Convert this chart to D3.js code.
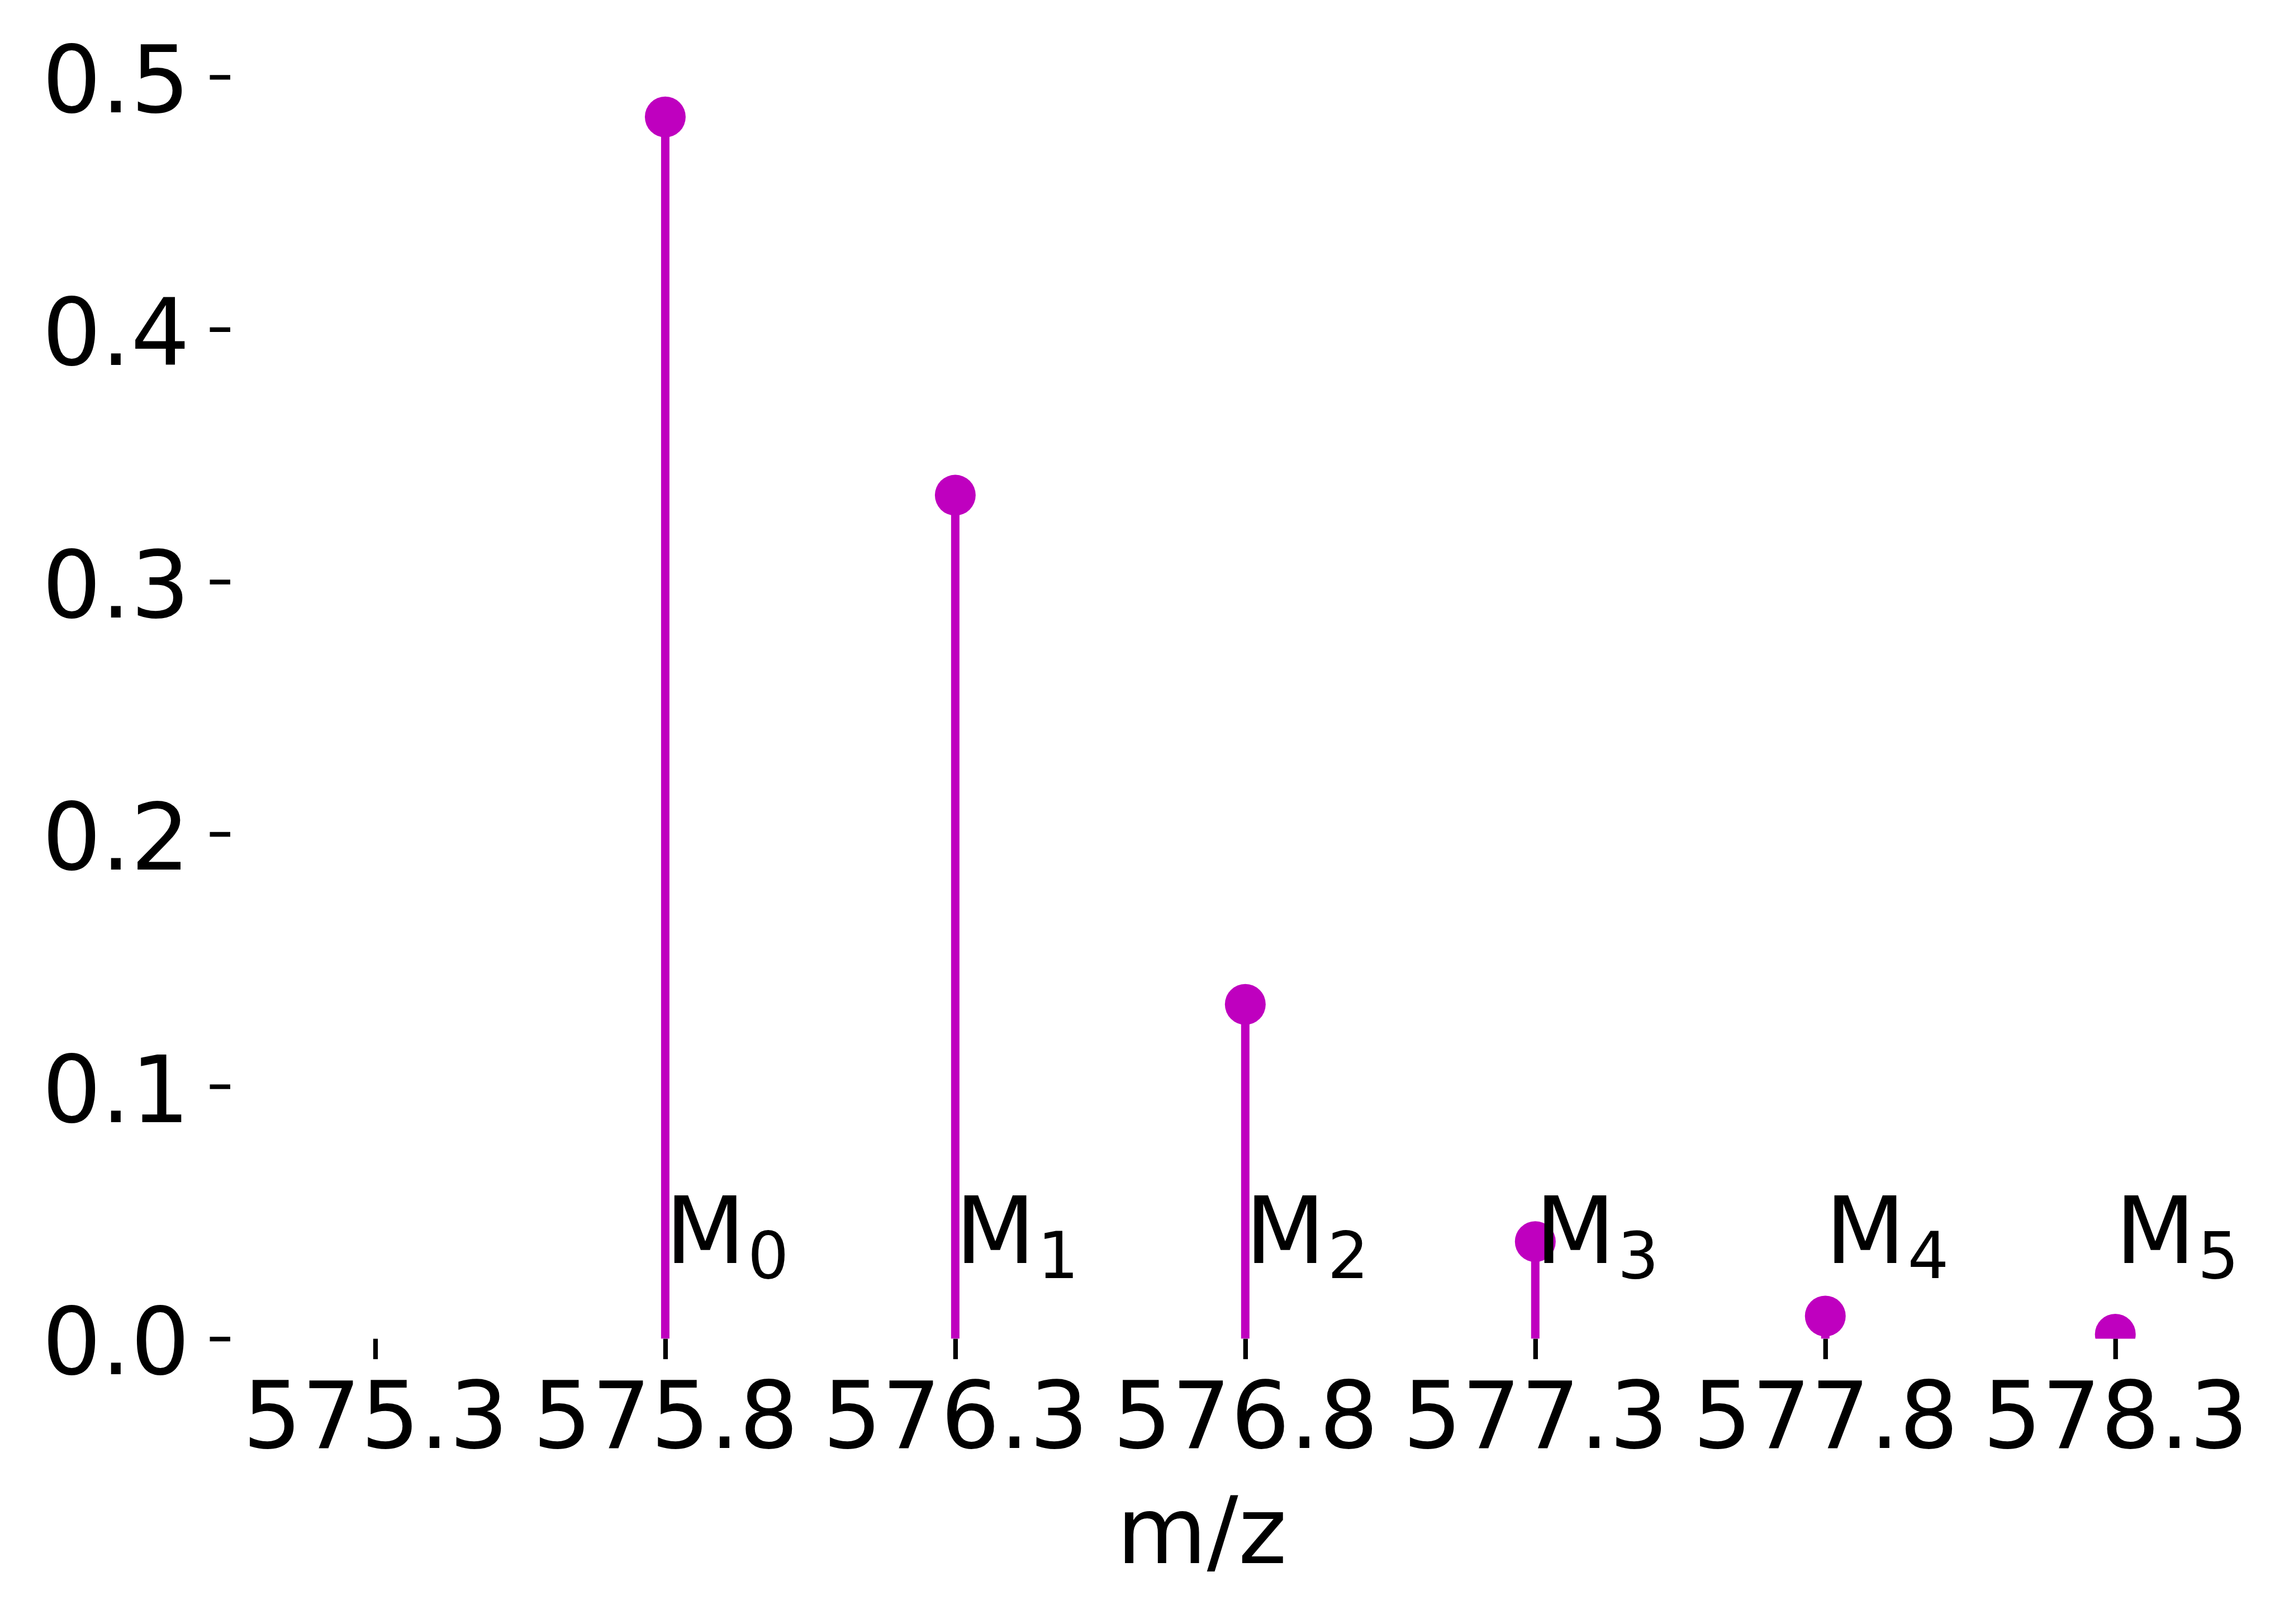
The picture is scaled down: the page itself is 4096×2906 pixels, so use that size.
<!DOCTYPE html>
<html>
<head>
<meta charset="utf-8">
<script src="https://cdn.jsdelivr.net/npm/d3@7"></script>
<style>
  html, body { margin: 0; padding: 0; background: #ffffff; }
  svg { display: block; }
  text { font-family: "DejaVu Sans", sans-serif; fill: #000; }
</style>
</head>
<body>
<script>
// ---- data ----
const mzValues   = [575.8, 576.3, 576.8, 577.3, 577.8, 578.3];
const intensity  = [0.4842, 0.3343, 0.1325, 0.0385, 0.0090, 0.0018];
const peakBase   = ["M", "M", "M", "M", "M", "M"];
const peakSub    = ["0", "1", "2", "3", "4", "5"];
const xTickVals  = [575.3, 575.8, 576.3, 576.8, 577.3, 577.8, 578.3];
const yTickVals  = [0.0, 0.1, 0.2, 0.3, 0.4, 0.5];
const xLabel     = "m/z";
const labelLevel = 0.03;

// ---- layout ----
const W = 4096, H = 2906;
const left = 412, right = 3889, bottom = 2395.6, topAt05 = 137.9;
const fontSize = 166;
const color = "#bf00bf";

const svg = d3.select("body").append("svg")
  .attr("width", W).attr("height", H);

const x = d3.scaleLinear().domain([575.05, 578.4]).range([left, right]);
const y = d3.scaleLinear().domain([0, 0.5]).range([bottom, topAt05]);

svg.append("defs").append("clipPath").attr("id", "plotclip")
  .append("rect")
  .attr("x", left).attr("y", y(0.51))
  .attr("width", right - left).attr("height", bottom - y(0.51));

const peaks = mzValues.map((m, i) => ({ mz: m, v: intensity[i], base: peakBase[i], sub: peakSub[i] }));

const plot = svg.append("g").attr("clip-path", "url(#plotclip)");

// stems
plot.selectAll("line.stem").data(peaks).join("line")
  .attr("class", "stem")
  .attr("x1", d => x(d.mz)).attr("x2", d => x(d.mz))
  .attr("y1", y(0)).attr("y2", d => y(d.v))
  .attr("stroke", color).attr("stroke-width", 15);

// markers
plot.selectAll("circle.mk").data(peaks).join("circle")
  .attr("class", "mk")
  .attr("cx", d => x(d.mz)).attr("cy", d => y(d.v))
  .attr("r", 36.5).attr("fill", color);

// axes
const tickLen = 36.5, tickW = 8.3;
const xAxis = d3.axisBottom(x).tickValues(xTickVals).tickSize(tickLen).tickPadding(41)
  .tickFormat(d3.format(".1f"));
const gx = svg.append("g").attr("transform", `translate(0,${bottom})`).call(xAxis);
gx.select(".domain").remove();
gx.selectAll(".tick line").attr("stroke", "#000").attr("stroke-width", tickW);
gx.selectAll(".tick text").attr("font-size", fontSize).attr("font-family", "DejaVu Sans").attr("fill", "#000");

const yAxis = d3.axisLeft(y).tickValues(yTickVals).tickSize(tickLen).tickPadding(36)
  .tickFormat(d3.format(".1f"));
const gy = svg.append("g").attr("transform", `translate(${left},0)`).call(yAxis);
gy.select(".domain").remove();
gy.selectAll(".tick line").attr("stroke", "#000").attr("stroke-width", tickW);
gy.selectAll(".tick text").attr("font-size", fontSize).attr("font-family", "DejaVu Sans")
  .attr("fill", "#000").attr("dy", "0.38em");

// x label
svg.append("text")
  .attr("x", (left + right) / 2).attr("y", 2797)
  .attr("text-anchor", "middle")
  .attr("font-size", fontSize)
  .text(xLabel);

// peak labels
const lbl = svg.selectAll("text.peak").data(peaks).join("text")
  .attr("class", "peak")
  .attr("x", d => x(d.mz)).attr("y", y(labelLevel))
  .attr("font-size", fontSize);
lbl.append("tspan").text(d => d.base);
lbl.append("tspan").attr("dx", 4).attr("dy", 27).attr("font-size", fontSize * 0.7).text(d => d.sub);
</script>
</body>
</html>
